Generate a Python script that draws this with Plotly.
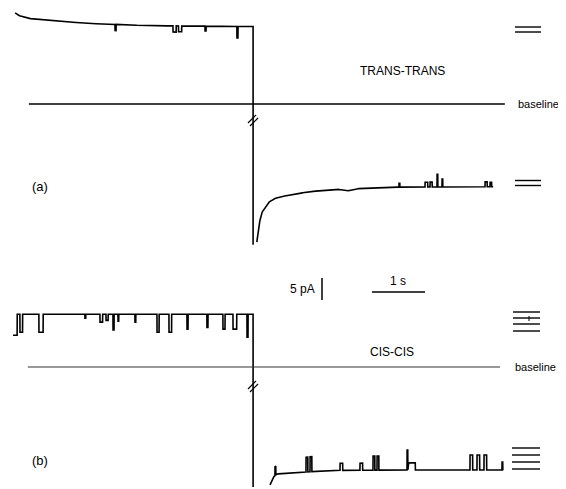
import numpy as np
import plotly.graph_objects as go

W, H = 566, 489
PAGE_MARGIN = 8  # default body margin of the html page

# ---------------- data (time in s, current in pA) ----------------
# panel (a) TRANS-TRANS : before the voltage jump (knots of the slow decay)
a_pre_t = [0.04, 0.09, 0.26, 0.70, 1.45, 2.58, 3.53, 4.53]
a_pre_i = [20.7, 20.2, 19.5, 18.9, 18.3, 17.8, 17.7, 17.6]
# channel events: start (s), duration (s), amplitude (pA)
a_pre_ev_t = [1.925, 3.019, 3.123, 3.623, 4.226]
a_pre_ev_d = [0.02, 0.06, 0.06, 0.02, 0.02]
a_pre_ev_a = [-1.4, -1.4, -1.3, -1.1, -2.6]

# panel (a) after the jump
a_post_t = [4.60, 4.62, 4.66, 4.70, 4.76, 4.83, 4.91, 5.04, 5.23, 5.55, 6.11, 6.30, 6.45, 6.79, 7.25, 9.06]
a_post_i = [-31.4, -29.1, -26.4, -24.6, -23.4, -22.3, -21.6, -21.1, -20.7, -20.0, -19.3, -19.8, -19.3, -19.0, -18.9, -18.8]
a_post_ev_t = [7.283, 7.774, 7.868, 8.000, 8.094, 8.906, 9.000]
a_post_ev_d = [0.015, 0.05, 0.04, 0.015, 0.015, 0.04, 0.03]
a_post_ev_a = [0.9, 1.1, 1.1, 2.9, 1.8, 1.1, 1.0]
a_jump_to = -32.0

# panel (b) CIS-CIS : before the jump
b_pre_t = [0.0, 4.53]
b_pre_i = [12.0, 12.0]
b_pre_ev_t = [0.0, 0.132, 0.49, 1.358, 1.642, 1.755, 1.887, 1.981, 2.302, 2.717, 2.943, 3.283, 3.660, 3.962, 4.151, 4.415]
b_pre_ev_d = [0.08, 0.05, 0.08, 0.015, 0.05, 0.04, 0.02, 0.015, 0.015, 0.04, 0.05, 0.02, 0.02, 0.04, 0.07, 0.02]
b_pre_ev_a = [-4.8, -4.1, -4.1, -0.9, -1.8, -1.4, -3.6, -1.6, -1.8, -4.1, -4.1, -3.4, -3.0, -3.4, -3.4, -5.2]

# panel (b) after the jump
b_post_t = [4.85, 4.89, 4.93, 4.98, 5.51, 5.98, 7.30, 9.25]
b_post_i = [-26.8, -25.5, -24.8, -24.3, -23.9, -23.5, -23.4, -23.4]
b_post_ev_t = [4.943, 5.528, 5.604, 6.170, 6.547, 6.792, 6.868, 7.434, 7.450, 8.623, 8.755, 8.887, 9.226]
b_post_ev_d = [0.015, 0.035, 0.035, 0.05, 0.05, 0.035, 0.035, 0.015, 0.14, 0.05, 0.05, 0.05, 0.015]
b_post_ev_a = [2.0, 3.4, 3.4, 1.6, 1.6, 3.2, 3.2, 4.5, 1.6, 3.4, 3.4, 3.4, 1.8]
b_jump_to = -27.3

t_jump = 4.53
baseline_a_t = [0.30, 9.28]
baseline_b_t = [0.28, 9.19]

scale_pa = 5.0
scale_s = 1.0

# ---------------- layout constants (reference pixel positions) ----------------
PX_PER_S = 53.0
PX_PER_PA = 4.4
X0_PX = 13.0          # pixel column of t = 0
BASE_A_PX = 104.0     # pixel row of baseline (a)
BASE_B_PX = 367.0     # pixel row of baseline (b)
OFF_B = -(BASE_B_PX - BASE_A_PX) / PX_PER_PA

FW, FH = W - PAGE_MARGIN, H - PAGE_MARGIN
xr = [-(X0_PX - PAGE_MARGIN) / PX_PER_S, (W - X0_PX) / PX_PER_S]
yr = [-(H - BASE_A_PX) / PX_PER_PA, (BASE_A_PX - PAGE_MARGIN) / PX_PER_PA]


def build(kt, ki, et, ed, ea, dt=0.002):
    t = np.arange(kt[0], kt[-1] + dt / 2, dt)
    y = np.interp(t, kt, ki)
    for t0, d, a in zip(et, ed, ea):
        y = y + a * ((t >= t0) & (t < t0 + d))
    return t, y


fig = go.Figure()
line = dict(color="black", width=1.6)

# (a) pre + jump
t, y = build(a_pre_t, a_pre_i, a_pre_ev_t, a_pre_ev_d, a_pre_ev_a)
t = np.append(t, [t_jump, t_jump]); y = np.append(y, [y[-1], a_jump_to])
fig.add_trace(go.Scatter(x=t, y=y, mode="lines", line=line, hoverinfo="skip"))
t, y = build(a_post_t, a_post_i, a_post_ev_t, a_post_ev_d, a_post_ev_a)
fig.add_trace(go.Scatter(x=t, y=y, mode="lines", line=line, hoverinfo="skip"))

# (b)
t, y = build(b_pre_t, b_pre_i, b_pre_ev_t, b_pre_ev_d, b_pre_ev_a)
t = np.append(t, [t_jump, t_jump]); y = np.append(y, [y[-1], b_jump_to])
fig.add_trace(go.Scatter(x=t, y=y + OFF_B, mode="lines", line=line, hoverinfo="skip"))
t, y = build(b_post_t, b_post_i, b_post_ev_t, b_post_ev_d, b_post_ev_a)
fig.add_trace(go.Scatter(x=t, y=y + OFF_B, mode="lines", line=line, hoverinfo="skip"))

# baselines
fig.add_trace(go.Scatter(x=baseline_a_t, y=[0, 0], mode="lines",
                         line=dict(color="black", width=1.3), hoverinfo="skip"))
fig.add_trace(go.Scatter(x=baseline_b_t, y=[OFF_B, OFF_B], mode="lines",
                         line=dict(color="#333", width=1.1), hoverinfo="skip"))

# scale bars
sb_t = (322 - X0_PX) / PX_PER_S
sb_top = (BASE_A_PX - 278) / PX_PER_PA
fig.add_trace(go.Scatter(x=[sb_t, sb_t], y=[sb_top, sb_top - scale_pa], mode="lines",
                         line=dict(color="black", width=1.5), hoverinfo="skip"))
hb_t0 = (372 - X0_PX) / PX_PER_S
hb_y = (BASE_A_PX - 292) / PX_PER_PA
fig.add_trace(go.Scatter(x=[hb_t0, hb_t0 + scale_s], y=[hb_y, hb_y], mode="lines",
                         line=dict(color="black", width=1.5), hoverinfo="skip"))


# ---------------- decorations: reference pixel -> paper coords ----------------
def px(x):
    return (x - PAGE_MARGIN) / FW


def py(y):
    return 1 - (y - PAGE_MARGIN) / FH


shapes = []


def hline(x0, x1, y, w=1.4):
    shapes.append(dict(type="line", xref="paper", yref="paper", x0=px(x0), x1=px(x1),
                       y0=py(y), y1=py(y), line=dict(color="black", width=w)))


for yy in [27, 32]:
    hline(515, 541, yy)
for yy in [180.5, 185.5]:
    hline(515, 541, yy)
for yy in [312, 318, 324, 331]:
    hline(513, 540, yy)
for yy in [448, 455, 462, 469]:
    hline(512, 540, yy)
shapes.append(dict(type="line", xref="paper", yref="paper", x0=px(529), x1=px(529),
                   y0=py(316), y1=py(321), line=dict(color="black", width=1)))

# break marks
for (x0, y0, x1, y1) in [(248, 123, 256, 115), (250, 126, 258, 118),
                         (248, 389, 256, 381), (250, 392, 258, 384)]:
    shapes.append(dict(type="line", xref="paper", yref="paper", x0=px(x0), x1=px(x1),
                       y0=py(y0), y1=py(y1), line=dict(color="black", width=1.2)))

font = dict(family="Liberation Sans, Arial, sans-serif", color="black")


def text(s, x, y, size, xanchor="center"):
    return dict(text=s, x=px(x), y=py(y), xref="paper", yref="paper", showarrow=False,
                xanchor=xanchor, yanchor="middle", font=dict(size=size, **font))


annotations = [
    text("TRANS-TRANS", 402, 71, 12),
    text("baseline", 516, 104, 11, "left"),
    text("(a)", 40, 186, 13),
    text("5 pA", 317, 289, 12, "right"),
    text("1 s", 398, 281, 12),
    text("CIS-CIS", 392, 352, 12),
    text("baseline", 513, 367, 11, "left"),
    text("(b)", 40, 460, 13),
]

fig.update_layout(
    width=FW, height=FH, margin=dict(l=0, r=0, t=0, b=0),
    paper_bgcolor="white", plot_bgcolor="white", showlegend=False,
    xaxis=dict(range=xr, visible=False, fixedrange=True),
    yaxis=dict(range=yr, visible=False, fixedrange=True),
    shapes=shapes, annotations=annotations,
)
fig.write_html("out.html")
